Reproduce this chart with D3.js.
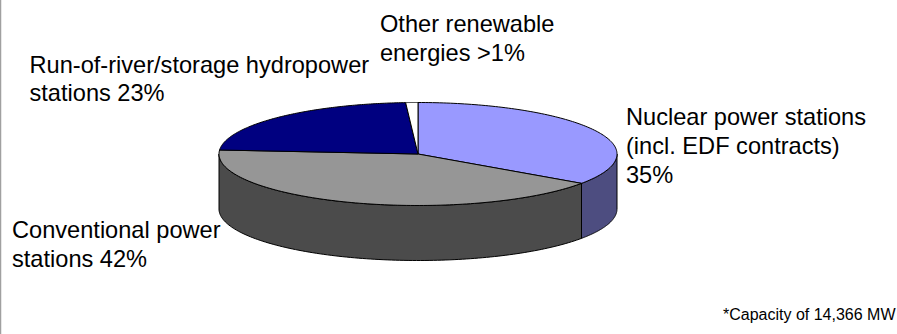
<!DOCTYPE html>
<html>
<head>
<meta charset="utf-8">
<script src="https://cdn.jsdelivr.net/npm/d3@7"></script>
<style>
html,body{margin:0;padding:0;background:#fff;}
svg{display:block;}
text{font-family:"Liberation Sans",Arial,sans-serif;fill:#000;}
</style>
</head>
<body>
<svg id="chart" width="897" height="334"></svg>
<script>
// Generation capacity shares, clockwise from 12 o'clock
const categories = ["Nuclear power stations", "Conventional power stations", "Run-of-river/storage hydropower stations", "Other renewable energies"];
const shares = [35, 42, 23, 1];
const topColors = ["#9999ff", "#969696", "#000080", "#ffffff"];
const wallColors = ["#4d4d80", "#4b4b4b", "#000040", "#808080"];

const labelLines = [
  ["Nuclear power stations", "(incl. EDF contracts)", "35%"],
  ["Conventional power", "stations 42%"],
  ["Run-of-river/storage hydropower", "stations 23%"],
  ["Other renewable", "energies >1%"]
];
const labelAnchors = [
  {x: 626, y: 125, step: 28.8},
  {x: 12, y: 237.5, step: 29},
  {x: 29.5, y: 72.5, step: 28.5},
  {x: 380, y: 31.7, step: 29}
];
const footnote = "*Capacity of 14,366 MW";

const svg = d3.select("#chart");
const cx = 418, cy = 154, rx = 199, ry = 51.5, depth = 55;

svg.append("line")
  .attr("x1", 0.5).attr("x2", 0.5).attr("y1", 0).attr("y2", 334)
  .attr("stroke", "#a0a0a0").attr("stroke-width", 1.5);

const arcs = d3.pie().sort(null).value(d => d)(shares);

// Point on the tilted rim; angle measured clockwise from the top
const rim = (a, dy = 0) => [cx + rx * Math.sin(a), cy - ry * Math.cos(a) + dy];
const sweep = (a0, a1) => d3.range(0, 121).map(i => a0 + (a1 - a0) * i / 120);
const line = d3.line();

// Outer wall: only the part of each slice on the front half of the disc
const walls = svg.append("g");
arcs.forEach((d, i) => {
  const a0 = Math.max(d.startAngle, Math.PI / 2);
  const a1 = Math.min(d.endAngle, Math.PI * 1.5);
  if (a1 <= a0) return;
  const upper = sweep(a0, a1).map(a => rim(a));
  const lower = sweep(a1, a0).map(a => rim(a, depth));
  walls.append("path")
    .attr("d", line(upper.concat(lower)) + "Z")
    .attr("fill", wallColors[i])
    .attr("stroke", "#000")
    .attr("stroke-width", 1)
    .attr("stroke-linejoin", "round");
});

// Top face of the disc
const faces = svg.append("g");
arcs.forEach((d, i) => {
  const pts = [[cx, cy]].concat(sweep(d.startAngle, d.endAngle).map(a => rim(a)));
  faces.append("path")
    .attr("d", line(pts) + "Z")
    .attr("fill", topColors[i])
    .attr("stroke", "#000")
    .attr("stroke-width", 1)
    .attr("stroke-linejoin", "round");
});

// Slice labels
labelLines.forEach((lines, i) => {
  const a = labelAnchors[i];
  const t = svg.append("text").attr("font-size", 23.6);
  lines.forEach((s, j) => {
    t.append("tspan").attr("x", a.x).attr("y", a.y + j * a.step).text(s);
  });
});

svg.append("text")
  .attr("x", 895.5).attr("y", 320)
  .attr("text-anchor", "end")
  .attr("font-size", 16)
  .text(footnote);
</script>
</body>
</html>
